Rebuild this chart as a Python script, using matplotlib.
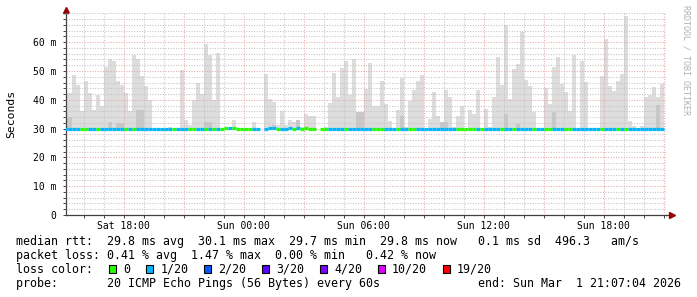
import numpy as np
import pandas as pd
import matplotlib
matplotlib.use('Agg')
import matplotlib.pyplot as plt
import matplotlib.dates as mdates
from matplotlib.ticker import MultipleLocator, FixedLocator, FuncFormatter
from matplotlib.patches import Rectangle

# 12 minute bins starting Sat 15:00, values in ms
bin_start = '2026-02-28 15:00'
graph_end = pd.Timestamp('2026-03-01 21:07:04')

# top of the ping smoke per bin (None = no smoke above median)
smoke_top = [
    42.4, 42.4, 48.75, 45.3, 36.1, 46.7, 42.4, 36.6, 41.5, 38.0,
    51.5, 54.1, 53.6, 46.7, 45.3, 42.4, 36.1, 55.7, 54.3, 48.1,
    44.9, 40.1, None, None, None, None, 30.7, None, None, 50.5,
    33.1, 31.4, 40.1, 46.0, 42.0, 59.5, 55.7, 40.1, 56.4, None,
    None, None, 33.1, None, None, None, None, 32.4, None, None,
    49.1, 40.4, 39.4, 31.4, 36.25, 31.4, 33.1, 32.4, 33.1, 30.7,
    34.9, 34.5, 34.5, None, None, 30.7, 39.0, 49.4, 41.1, 51.2,
    53.3, 41.5, 54.3, 35.6, 35.6, 43.9, 52.9, 38.0, 38.0, 46.7,
    38.7, 32.8, None, 36.6, 47.4, 30.7, 39.7, 43.5, 46.7, 48.75,
    None, 33.5, 42.8, 34.5, 32.3, 43.5, 41.1, 30.7, 34.5, 38.0,
    None, 36.6, 34.9, 43.5, 30.3, 36.9, 30.7, 40.8, 55.0, 45.3,
    65.8, 40.4, 50.8, 52.6, 63.7, 47.0, 44.9, 35.9, 30.3, None,
    44.2, 38.7, 51.5, 54.7, 45.6, 42.8, 36.25, 55.7, None, 53.6,
    46.3, 30.3, 30.3, None, 48.1, 61.25, 44.9, 43.2, 46.7, 49.1,
    69.2, 32.8, 31.0, None, 31.0, 41.1, 41.5, 44.6, 40.8, 45.6,
]

# denser part of the smoke
smoke_dense = [
    34.0, 34.0, None, None, None, None, None, None, None, None,
    None, 32.3, None, 32.0, 32.0, None, None, None, 36.3, 36.3,
    None, None, None, None, None, None, None, None, None, None,
    None, None, None, None, None, 32.2, 32.2, None, None, None,
    None, None, None, None, None, None, None, None, None, None,
    None, None, 31.4, None, None, None, None, None, 33.0, None,
    None, None, None, None, None, None, None, None, None, None,
    None, None, None, 35.7, 35.7, None, None, None, None, None,
    None, None, None, None, 34.4, None, None, None, None, None,
    None, None, None, None, 32.4, 32.4, None, None, None, None,
    None, None, None, None, None, None, None, None, None, None,
    34.9, None, None, 31.7, None, None, None, None, None, None,
    None, None, 35.6, None, None, None, None, None, None, None,
    None, None, None, None, None, None, None, None, None, None,
    None, None, None, None, None, None, None, None, 38.1, None,
]

median_rtt = [
    29.8, 29.8, 29.8, 29.8, 29.8, 29.8, 29.8, 29.8, 29.8, 29.8,
    29.8, 29.8, 29.8, 29.8, 29.8, 29.8, 29.8, 29.8, 29.8, 29.8,
    29.8, 29.8, 29.8, 29.8, 29.8, 29.8, 29.8, 29.8, 29.8, 29.8,
    29.8, 29.8, 29.8, 29.8, 29.8, 29.8, 29.8, 29.8, 29.8, 29.8,
    30.3, 30.3, 30.3, 29.8, 29.8, 29.8, 29.8, 29.8, 29.8, None,
    29.8, 30.2, 30.2, 29.8, 29.8, 29.8, 30.2, 29.8, 30.3, 29.8,
    30.1, 29.8, 29.8, None, 29.9, 29.9, 29.8, 29.8, 29.8, 29.8,
    29.8, 29.8, 29.8, 29.8, 29.8, 29.8, 29.8, 29.8, 29.8, 29.8,
    29.8, 29.8, 29.8, 29.8, 29.8, 29.8, 29.8, 29.8, 29.8, 29.8,
    29.8, 29.8, 29.8, 29.8, 29.8, 29.8, 29.8, 29.8, 29.8, 29.8,
    29.8, 29.8, 29.8, 29.8, 29.8, 29.8, 29.8, 29.8, 29.8, 29.8,
    29.8, 29.8, 29.8, 29.8, 29.8, 29.8, 29.8, 29.8, 29.8, 29.8,
    29.8, 29.8, 29.8, 29.8, 29.8, 29.8, 29.8, 29.8, 29.8, 29.8,
    29.8, 29.8, 29.8, 29.8, 29.8, 29.8, 29.8, 29.8, 29.8, 29.8,
    29.8, 29.8, 29.8, 29.8, 29.8, 29.8, 29.8, 29.8, 29.8, 29.8,
]

# lost pings per bin (0 -> green, 1 -> light blue)
lost = [
    1, 1, 1, 1, 0, 0, 1, 1, 0, 1,
    1, 1, 1, 1, 1, 0, 1, 0, 1, 1,
    1, 1, 1, 1, 1, 1, 1, 0, 1, 1,
    1, 0, 0, 1, 1, 0, 1, 0, 1, 0,
    0, 1, 0, 0, 0, 0, 0, 1, 1, 1,
    1, 1, 1, 0, 1, 1, 1, 0, 1, 0,
    0, 0, 0, 1, 0, 0, 1, 1, 1, 1,
    0, 1, 1, 1, 1, 1, 1, 0, 0, 0,
    1, 1, 1, 0, 1, 1, 0, 0, 1, 1,
    1, 1, 1, 1, 1, 1, 1, 1, 0, 0,
    0, 0, 0, 1, 0, 1, 1, 1, 1, 0,
    1, 1, 0, 1, 1, 1, 1, 0, 1, 1,
    0, 0, 1, 1, 1, 0, 0, 1, 1, 1,
    1, 1, 1, 1, 0, 1, 1, 1, 0, 1,
    0, 1, 1, 1, 1, 1, 1, 1, 1, 1,
]

loss_labels = ['0', '1/20', '2/20', '3/20', '4/20', '10/20', '19/20']
loss_colors = ['#26ff00', '#00b8ff', '#0059ff', '#5e00ff', '#7e00ff', '#dd00ff', '#ff0000']

legend_lines = [
    'median rtt:  29.8 ms avg  30.1 ms max  29.7 ms min  29.8 ms now   0.1 ms sd  496.3   am/s',
    'packet loss: 0.41 % avg  1.47 % max  0.00 % min   0.42 % now',
    'loss color:',
    'probe:       20 ICMP Echo Pings (56 Bytes) every 60s              end: Sun Mar  1 21:07:04 2026',
]

W, H = 697, 297
mono = 'DejaVu Sans Mono'
axis_col = '#404040'
arrow_col = '#990000'

times = pd.date_range(bin_start, periods=len(smoke_top), freq='12min')
t = mdates.date2num(times.to_pydatetime())
step = 12 / 1440.0
base = 29.6

fig = plt.figure(figsize=(W / 100, H / 100), dpi=100)
fig.patch.set_facecolor('white')
ax = fig.add_axes([66 / W, (H - 215) / H, 600 / W, 201.6 / H])

top = np.array([np.nan if v is None else v for v in smoke_top])
ok = ~np.isnan(top)
ax.bar(t[ok], top[ok] - base, bottom=base, width=step, align='edge',
       color='#dddddd', linewidth=0, zorder=1)
dense = np.array([np.nan if v is None else v for v in smoke_dense])
ok = ~np.isnan(dense)
ax.bar(t[ok], dense[ok] - base, bottom=base, width=step, align='edge',
       color='#c8c8c8', linewidth=0, zorder=1.1)

med = np.array([np.nan if v is None else v for v in median_rtt])
ok = ~np.isnan(med)
cols = [loss_colors[l] for l in np.array(lost)[ok]]
ax.hlines(med[ok], t[ok], t[ok] + step, colors=cols, linewidth=2.3, zorder=3)

start = mdates.date2num(graph_end - pd.Timedelta(hours=30))
ax.set_xlim(start, mdates.date2num(graph_end))
ax.set_ylim(0, 70)

ax.xaxis.set_major_locator(mdates.HourLocator(byhour=range(0, 24, 3)))
ax.xaxis.set_minor_locator(mdates.HourLocator())
ax.xaxis.set_major_formatter(FuncFormatter(
    lambda x, pos: mdates.num2date(x).strftime('%a %H:%M') if mdates.num2date(x).hour % 6 == 0 else ''))
ax.yaxis.set_major_locator(FixedLocator([0, 10, 20, 30, 40, 50, 60]))
ax.yaxis.set_minor_locator(MultipleLocator(2))
ax.yaxis.set_major_formatter(FuncFormatter(lambda v, pos: '0' if v == 0 else f'{v:g} m'))

ax.grid(which='major', color='#e8a8a8', linestyle=(0, (1, 1.5)), linewidth=0.75, zorder=2.5)
ax.grid(which='minor', color='#c4c4c4', linestyle=(0, (1, 1.5)), linewidth=0.75, zorder=2.5)
ax.set_axisbelow(False)

for s in ['top', 'right']:
    ax.spines[s].set_visible(False)
for s in ['left', 'bottom']:
    ax.spines[s].set_color(axis_col)
    ax.spines[s].set_linewidth(0.9)
ax.tick_params(which='both', direction='out', length=2, width=0.7, color=axis_col)
ax.tick_params(axis='y', pad=5, labelsize=7)
ax.tick_params(axis='x', pad=2.5, labelsize=7)
for lab in ax.get_xticklabels() + ax.get_yticklabels():
    lab.set_fontfamily(mono)

# axis extensions with arrow heads
ax.plot([1, 1.008], [0, 0], transform=ax.transAxes, color=axis_col, lw=0.9, clip_on=False)
ax.plot([1.01], [0], marker='>', ms=4, color=arrow_col, transform=ax.transAxes, clip_on=False)
ax.plot([0, 0], [1, 1.015], transform=ax.transAxes, color=axis_col, lw=0.9, clip_on=False)
ax.plot([0], [1.017], marker='^', ms=4, color=arrow_col, transform=ax.transAxes, clip_on=False)

fig.text(11 / W, 1 - 114 / H, 'Seconds', rotation=90, ha='center', va='center',
         fontsize=8.2, family=mono)
fig.text(686 / W, 1 - 5 / H, 'RRDTOOL / TOBI OETIKER', rotation=270, ha='center', va='top',
         fontsize=6, family=mono, color='#b0b0b0')

for i, line in enumerate(legend_lines):
    fig.text(16 / W, 1 - (244.7 + 14 * i) / H, line, ha='left', va='baseline',
             fontsize=8.4, family=mono)

# loss colour swatches
x = 108.7
for lab, col in zip(loss_labels, loss_colors):
    fig.patches.append(Rectangle((x / W, 1 - 272.7 / H), 7 / W, 7.3 / H,
                                 transform=fig.transFigure, facecolor=col,
                                 edgecolor='black', linewidth=0.8))
    tx = x + 14.6
    fig.text(tx / W, 1 - 272.7 / H, lab, ha='left', va='baseline', fontsize=8.4, family=mono)
    x = tx + len(lab) * 7.02 + 15.3

fig.savefig('out.png', dpi=100, facecolor='white')
